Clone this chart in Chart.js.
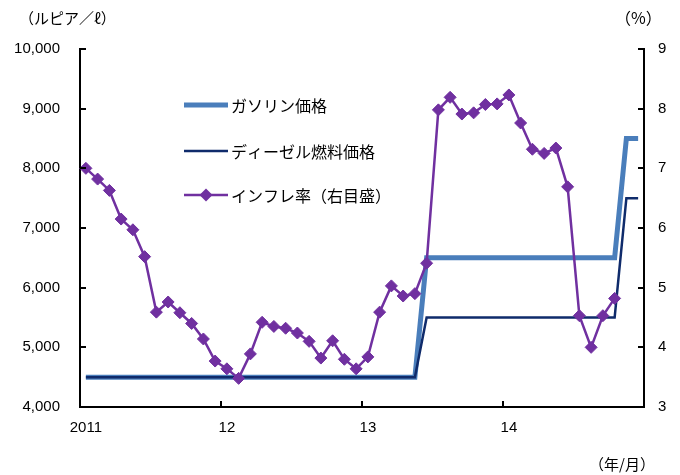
<!DOCTYPE html>
<html>
<head>
<meta charset="utf-8">
<script src="https://cdn.jsdelivr.net/npm/chart.js@4.4.1/dist/chart.umd.min.js"></script>
<style>
  html, body { margin: 0; background: #fff; }
</style>
</head>
<body>
<canvas id="chart" width="680" height="475"></canvas>
<script>
// 年ラベル（1月の位置に表示）
const yearLabels = ['2011', '12', '13', '14'];

// 月次カテゴリ（2011年1月〜2014年12月）
const months = [];
[2011, 2012, 2013, 2014].forEach(y => {
  for (let m = 1; m <= 12; m++) months.push(y + '/' + m);
});

// ガソリン価格（ルピア／ℓ）
const gasoline = [
  4500, 4500, 4500, 4500, 4500, 4500, 4500, 4500, 4500, 4500, 4500, 4500,
  4500, 4500, 4500, 4500, 4500, 4500, 4500, 4500, 4500, 4500, 4500, 4500,
  4500, 4500, 4500, 4500, 4500, 6500, 6500, 6500, 6500, 6500, 6500, 6500,
  6500, 6500, 6500, 6500, 6500, 6500, 6500, 6500, 6500, 6500, 8500, 8500
];

// ディーゼル燃料価格（ルピア／ℓ）
const diesel = [
  4500, 4500, 4500, 4500, 4500, 4500, 4500, 4500, 4500, 4500, 4500, 4500,
  4500, 4500, 4500, 4500, 4500, 4500, 4500, 4500, 4500, 4500, 4500, 4500,
  4500, 4500, 4500, 4500, 4500, 5500, 5500, 5500, 5500, 5500, 5500, 5500,
  5500, 5500, 5500, 5500, 5500, 5500, 5500, 5500, 5500, 5500, 7500, 7500
];

// インフレ率（%、右目盛）
const inflation = [
  7.00, 6.82, 6.63, 6.15, 5.97, 5.52, 4.59, 4.76, 4.58, 4.40, 4.14, 3.77,
  3.64, 3.48, 3.89, 4.42, 4.35, 4.32, 4.24, 4.10, 3.82, 4.11, 3.80, 3.64,
  3.84, 4.59, 5.03, 4.86, 4.90, 5.41, 7.98, 8.19, 7.91, 7.93, 8.07, 8.08,
  8.23, 7.76, 7.32, 7.25, 7.34, 6.69, 4.53, 4.00, 4.53, 4.82, null, null
];

const numFont = { family: '"Liberation Sans", Arial, sans-serif', size: 15 };
const jpFont = '"Noto Sans CJK JP", sans-serif';

const colGas = '#4A7EBB';
const colDiesel = '#0F2B6B';
const colInfl = '#7030A0';

// 目盛り線を内側に描く
const inwardTicks = {
  id: 'inwardTicks',
  afterDraw(chart) {
    const ctx = chart.ctx;
    const { x, y, y1 } = chart.scales;
    const area = chart.chartArea;
    const len = 6;
    ctx.save();
    ctx.strokeStyle = '#000';
    ctx.lineWidth = 2;
    ctx.beginPath();
    y.ticks.forEach(t => {
      const py = Math.round(y.getPixelForValue(t.value));
      ctx.moveTo(area.left, py); ctx.lineTo(area.left + len, py);
    });
    y1.ticks.forEach(t => {
      const py = Math.round(y1.getPixelForValue(t.value));
      ctx.moveTo(area.right, py); ctx.lineTo(area.right - len, py);
    });
    const half = (x.getPixelForValue(1) - x.getPixelForValue(0)) / 2;
    [12, 24, 36].forEach(i => {
      const px = Math.round(x.getPixelForValue(i) - half);
      ctx.moveTo(px, area.bottom); ctx.lineTo(px, area.bottom - len);
    });
    ctx.stroke();
    ctx.restore();
  }
};

// 単位表示と凡例
const labelsAndLegend = {
  id: 'labelsAndLegend',
  afterDraw(chart) {
    const ctx = chart.ctx;
    ctx.save();
    ctx.fillStyle = '#000';
    ctx.textBaseline = 'middle';
    ctx.font = '15px ' + jpFont;
    ctx.textAlign = 'left';
    ctx.fillText('（ルピア／ℓ）', 19, 18);
    ctx.font = '16px ' + jpFont;
    ctx.fillText('（%）', 615, 18);
    ctx.font = '15px ' + jpFont;
    ctx.fillText('（年/月）', 589, 464);

    const items = [
      { text: 'ガソリン価格', color: colGas, width: 5, y: 105, marker: false },
      { text: 'ディーゼル燃料価格', color: colDiesel, width: 2.5, y: 151, marker: false },
      { text: 'インフレ率（右目盛）', color: colInfl, width: 2.5, y: 195, marker: true }
    ];
    ctx.font = '16px ' + jpFont;
    items.forEach(it => {
      ctx.strokeStyle = it.color;
      ctx.lineWidth = it.width;
      ctx.beginPath();
      ctx.moveTo(184, it.y); ctx.lineTo(228, it.y);
      ctx.stroke();
      if (it.marker) {
        ctx.fillStyle = it.color;
        ctx.beginPath();
        ctx.moveTo(206, it.y - 6.5); ctx.lineTo(212.5, it.y);
        ctx.lineTo(206, it.y + 6.5); ctx.lineTo(199.5, it.y);
        ctx.closePath();
        ctx.fill();
        ctx.fillStyle = '#000';
      }
      ctx.fillText(it.text, 231, it.y + 1);
    });
    ctx.restore();
  }
};

new Chart(document.getElementById('chart').getContext('2d'), {
  type: 'line',
  data: {
    labels: months,
    datasets: [
      {
        label: 'インフレ率（右目盛）',
        data: inflation,
        yAxisID: 'y1',
        borderColor: colInfl,
        backgroundColor: colInfl,
        borderWidth: 2.5,
        pointStyle: 'rectRot',
        pointRadius: 6,
        pointBorderWidth: 1,
        pointBorderColor: colInfl,
        pointBackgroundColor: colInfl,
        tension: 0,
        spanGaps: false,
        order: 0
      },
      {
        label: 'ディーゼル燃料価格',
        data: diesel,
        yAxisID: 'y',
        borderColor: colDiesel,
        borderWidth: 2.5,
        pointRadius: 0,
        tension: 0,
        order: 1
      },
      {
        label: 'ガソリン価格',
        data: gasoline,
        yAxisID: 'y',
        borderColor: colGas,
        borderWidth: 5,
        pointRadius: 0,
        tension: 0,
        order: 2
      }
    ]
  },
  options: {
    responsive: false,
    animation: false,
    layout: { padding: { top: 49, left: 0, right: 0, bottom: 0 } },
    plugins: {
      legend: { display: false },
      tooltip: { enabled: false }
    },
    scales: {
      x: {
        type: 'category',
        offset: true,
        grid: { display: false, drawTicks: false, tickLength: 0 },
        border: { display: true, color: '#000', width: 2 },
        ticks: {
          autoSkip: false,
          maxRotation: 0,
          padding: 12,
          color: '#000',
          font: numFont,
          callback: (v, i) => (i % 12 === 0 ? yearLabels[i / 12] : '')
        },
        afterFit: s => { s.height = 68; }
      },
      y: {
        position: 'left',
        min: 4000,
        max: 10000,
        grid: { display: false, drawTicks: false, tickLength: 0 },
        border: { display: true, color: '#000', width: 2 },
        ticks: {
          stepSize: 1000,
          padding: 20,
          color: '#000',
          font: numFont,
          callback: v => v.toLocaleString('en-US')
        },
        afterFit: s => { s.width = 80; }
      },
      y1: {
        position: 'right',
        min: 3,
        max: 9,
        grid: { display: false, drawTicks: false, tickLength: 0 },
        border: { display: true, color: '#000', width: 2 },
        ticks: {
          stepSize: 1,
          padding: 14,
          color: '#000',
          font: numFont
        },
        afterFit: s => { s.width = 36; }
      }
    }
  },
  plugins: [inwardTicks, labelsAndLegend]
});
</script>
</body>
</html>
